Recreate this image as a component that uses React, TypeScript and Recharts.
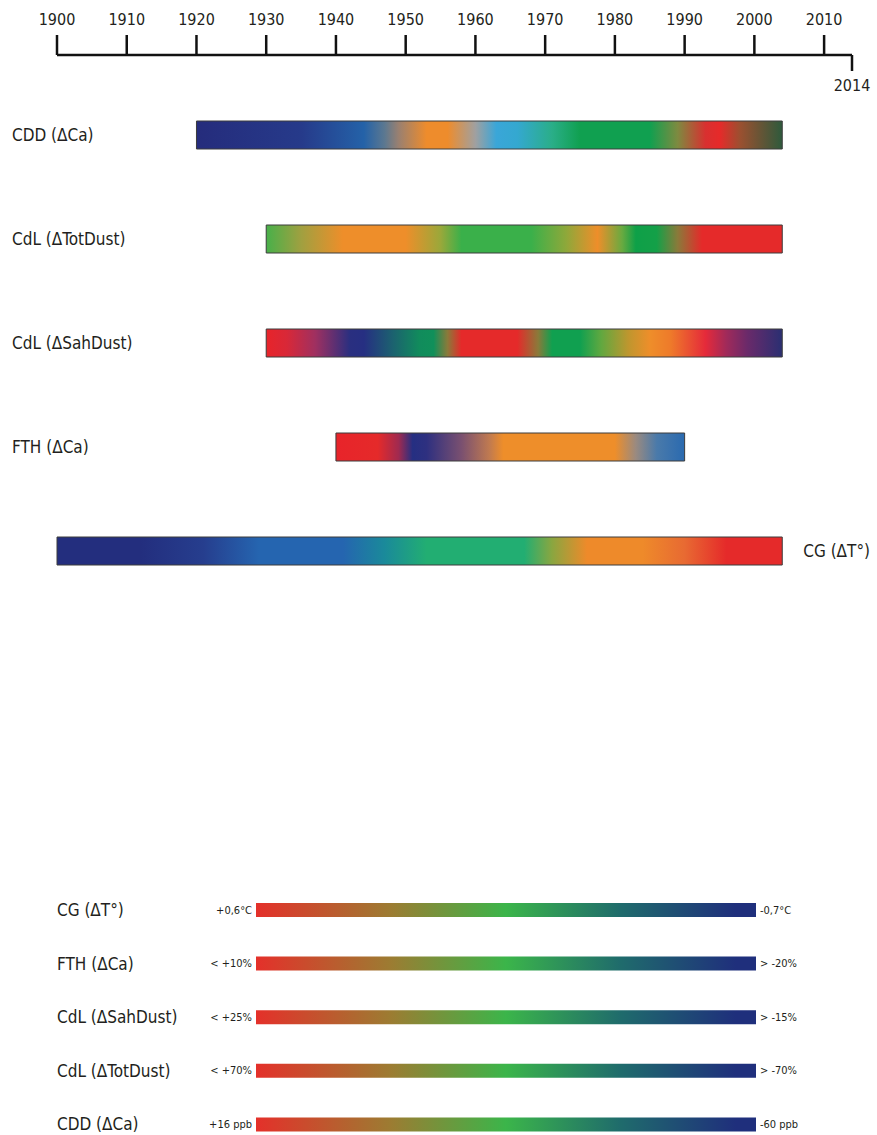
import { BarChart, Bar, XAxis, YAxis, Cell, LabelList } from "recharts";

const FONT = '"Liberation Sans Narrow", "DejaVu Sans Condensed", "Roboto Condensed", "Open Sans", sans-serif';
const INK = "#231f20";

// timeline axis
const YEAR_TICKS = [1900, 1910, 1920, 1930, 1940, 1950, 1960, 1970, 1980, 1990, 2000, 2010, 2014];
const FIRST_YEAR = 1900;
const LAST_YEAR = 2014;

// records, top to bottom
const SERIES = ["CDD (ΔCa)", "CdL (ΔTotDust)", "CdL (ΔSahDust)", "FTH (ΔCa)", "CG (ΔT°)"];
const START_YEARS = [1920, 1930, 1930, 1940, 1900];
const END_YEARS = [2004, 2004, 2004, 1990, 2004];

// colour: [year, colour]
const CDD_STOPS: [number, string][] = [
    [1920, "#252c7c"], [1935, "#263a8a"], [1944, "#2462a8"], [1947, "#5c7890"],
    [1949, "#9a8070"], [1953, "#ee8c2c"], [1956, "#ee8c2c"], [1960, "#a0a0a0"],
    [1963, "#3aa6d8"], [1966, "#34a8d0"], [1971, "#2aae88"], [1975, "#10a050"],
    [1985, "#10a050"], [1989, "#7e8a40"], [1993, "#d83030"], [1995, "#e62a2a"],
    [1998, "#9a5030"], [2004, "#2e5a3c"],
];
const TOTDUST_STOPS: [number, string][] = [
    [1930, "#48b04a"], [1935, "#a0a040"], [1941, "#ee8e2a"], [1950, "#ee8e2a"],
    [1955, "#9aa83a"], [1958, "#3ab04a"], [1968, "#3ab04a"], [1973, "#8ea83a"],
    [1977.5, "#ee8e2a"], [1981, "#6aaa40"], [1983, "#0ea048"], [1986, "#14a048"],
    [1989, "#8a7a3a"], [1992.5, "#e52a2a"], [2004, "#e52a2a"],
];
const SAHDUST_STOPS: [number, string][] = [
    [1930, "#e8242a"], [1933, "#d82838"], [1937, "#a03060"], [1942, "#2a2f80"],
    [1944, "#262f82"], [1948, "#1c6070"], [1952, "#118c5c"], [1954, "#10905a"],
    [1956, "#8a7a3a"], [1958, "#e52a2a"], [1966, "#e52a2a"], [1969, "#8a7a3a"],
    [1971, "#10a050"], [1975, "#10a050"], [1978, "#60a840"], [1982, "#c0962e"],
    [1985, "#ee8e2a"], [1988, "#ee7a2a"], [1993, "#e52a3a"], [1996, "#a02a5a"],
    [1999, "#6a2a6a"], [2004, "#2a2f72"],
];
const FTH_STOPS: [number, string][] = [
    [1940, "#e8242a"], [1946, "#e52a2a"], [1949, "#a02a50"], [1951, "#252f82"],
    [1953, "#2e3080"], [1958, "#7a5070"], [1962, "#c07a50"], [1964, "#ee8e2a"],
    [1980, "#ee8e2a"], [1983, "#9a8a80"], [1986, "#4a7aaa"], [1990, "#2a6ab0"],
];
const CG_STOPS: [number, string][] = [
    [1900, "#232e7e"], [1912, "#232e7e"], [1921, "#263e8e"], [1929, "#2565b0"],
    [1941, "#2565b0"], [1947, "#1a8a9a"], [1953, "#22ae72"], [1967, "#22ae72"],
    [1971, "#8aa640"], [1976, "#ee8a2a"], [1984, "#ee8a2a"], [1990, "#e86a32"],
    [1996, "#e52a2a"], [2004, "#e52a2a"],
];
const SERIES_STOPS = [CDD_STOPS, TOTDUST_STOPS, SAHDUST_STOPS, FTH_STOPS, CG_STOPS];

// colour key at the bottom
const KEY_NAMES = ["CG (ΔT°)", "FTH (ΔCa)", "CdL (ΔSahDust)", "CdL (ΔTotDust)", "CDD (ΔCa)"];
const KEY_HIGH = ["+0,6°C", "< +10%", "< +25%", "< +70%", "+16 ppb"];
const KEY_LOW = ["-0,7°C", "> -20%", "> -15%", "> -70%", "-60 ppb"];
const KEY_STOPS: [number, string][] = [
    [0, "#e4302a"], [0.27, "#9c7c32"], [0.5, "#3bb54a"], [0.73, "#1f6b6c"], [0.96, "#1f2f7c"], [1, "#1f2f7c"],
];

const TICK_SIZE = 20;
const TICK_MARGIN = 3;

const timelineData = SERIES.map((name, i) => ({ name, span: [START_YEARS[i], END_YEARS[i]] }));
const keyData = KEY_NAMES.map((name) => ({ name, span: [0, 1] }));

function YearTick(props: any) {
    const { x, y, payload } = props;
    const axisY = y + TICK_SIZE + TICK_MARGIN;
    const down = payload.value === LAST_YEAR;
    return (
        <g>
            <line
                x1={x}
                x2={x}
                y1={axisY}
                y2={down ? axisY + 16 : axisY - TICK_SIZE}
                stroke="#111"
                strokeWidth={2.5}
            />
            <text
                x={x}
                y={down ? axisY + 36 : axisY - 30}
                textAnchor="middle"
                fontFamily={FONT}
                fontSize={16}
                fill={INK}
            >
                {payload.value}
            </text>
        </g>
    );
}

function SeriesLabel(props: any) {
    const { x, y, width, height, index } = props;
    const cy = y + height / 2;
    // no room on the left for the long bar: put its name after the end
    const onRight = x < 150;
    return (
        <text
            x={onRight ? x + width + 21 : 12}
            y={cy}
            dominantBaseline="central"
            fontFamily={FONT}
            fontSize={17}
            fill={INK}
        >
            {SERIES[index]}
        </text>
    );
}

function KeyLabel(props: any) {
    const { x, y, width, height, index } = props;
    const cy = y + height / 2;
    return (
        <g fontFamily={FONT} fill={INK}>
            <text x={57} y={cy} dominantBaseline="central" fontSize={17}>
                {KEY_NAMES[index]}
            </text>
            <text x={x - 4} y={cy} dominantBaseline="central" textAnchor="end" fontSize={11}>
                {KEY_HIGH[index]}
            </text>
            <text x={x + width + 4} y={cy} dominantBaseline="central" fontSize={11}>
                {KEY_LOW[index]}
            </text>
        </g>
    );
}

export default function App() {
    return (
        <div
            style={{
                position: "absolute",
                left: 0,
                top: 0,
                width: 877,
                height: 1135,
                overflow: "hidden",
                background: "#fff",
            }}
        >
            <div style={{ position: "absolute", left: 0, top: 0 }}>
                <BarChart
                    width={877}
                    height={620}
                    data={timelineData}
                    layout="vertical"
                    margin={{ top: 25, right: 25, left: 57, bottom: 17 }}
                >
                    <defs>
                        {SERIES_STOPS.map((stops, i) => (
                            <linearGradient key={i} id={`tl-${i}`} x1="0" y1="0" x2="1" y2="0">
                                {stops.map(([year, color], j) => (
                                    <stop
                                        key={j}
                                        offset={(year - START_YEARS[i]) / (END_YEARS[i] - START_YEARS[i])}
                                        stopColor={color}
                                    />
                                ))}
                            </linearGradient>
                        ))}
                    </defs>
                    <XAxis
                        type="number"
                        orientation="top"
                        domain={[FIRST_YEAR, LAST_YEAR]}
                        ticks={YEAR_TICKS}
                        interval={0}
                        height={30}
                        tickSize={TICK_SIZE}
                        tickMargin={TICK_MARGIN}
                        tickLine={false}
                        axisLine={{ stroke: "#111", strokeWidth: 2.5 }}
                        tick={<YearTick />}
                    />
                    <YAxis type="category" dataKey="name" hide padding={{ top: 28, bottom: 0 }} />
                    <Bar dataKey="span" barSize={28} stroke="#3c3c3c" strokeWidth={1} isAnimationActive={false}>
                        {timelineData.map((d, i) => (
                            <Cell key={d.name} fill={`url(#tl-${i})`} />
                        ))}
                        <LabelList dataKey="name" content={<SeriesLabel />} />
                    </Bar>
                </BarChart>
            </div>

            <div style={{ position: "absolute", left: 0, top: 850 }}>
                <BarChart
                    width={877}
                    height={310}
                    data={keyData}
                    layout="vertical"
                    margin={{ top: 33, right: 121, left: 256, bottom: 9 }}
                >
                    <defs>
                        <linearGradient id="key-grad" x1="0" y1="0" x2="1" y2="0">
                            {KEY_STOPS.map(([offset, color], j) => (
                                <stop key={j} offset={offset} stopColor={color} />
                            ))}
                        </linearGradient>
                    </defs>
                    <XAxis type="number" domain={[0, 1]} hide />
                    <YAxis type="category" dataKey="name" hide />
                    <Bar dataKey="span" barSize={14} fill="url(#key-grad)" isAnimationActive={false}>
                        <LabelList dataKey="name" content={<KeyLabel />} />
                    </Bar>
                </BarChart>
            </div>
        </div>
    );
}
